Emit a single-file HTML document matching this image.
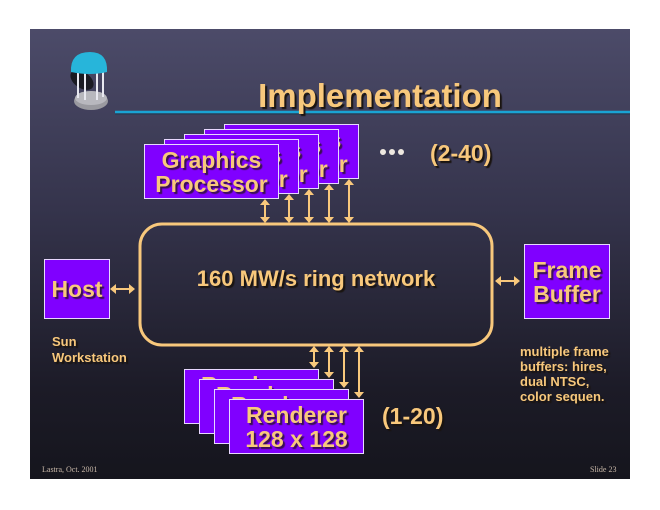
<!DOCTYPE html>
<html><head><meta charset="utf-8"><style>
*{margin:0;padding:0;box-sizing:border-box}
body{width:660px;height:510px;background:#fff;position:relative;overflow:hidden;font-family:"Liberation Sans",Arial,sans-serif}
#slide{position:absolute;left:30px;top:29px;width:600px;height:450px;background:linear-gradient(#4c4b69 0%,#35344c 40%,#1c1b27 80%,#15151d 100%)}
.t{position:absolute;color:#f8c87c;font-weight:bold;text-shadow:2px 2px 1px #1a1410;white-space:nowrap}
.box{position:absolute;width:135px;height:55px;background:#8000ff;border:1px solid #e8d8ff;color:#f8c87c;font-weight:bold;font-size:23px;line-height:24px;text-align:center;display:flex;align-items:center;justify-content:center;text-shadow:2px 2px 1px #3a1050;white-space:nowrap;overflow:hidden}
svg{position:absolute;left:0;top:0}
</style></head><body>
<div id="slide"></div>
<svg width="660" height="510">
 <ellipse cx="82" cy="80" rx="13" ry="8" fill="#1a1a22" transform="rotate(35 82 80)"/>
 <ellipse cx="91" cy="101" rx="17" ry="9" fill="#9a9aa0"/>
 <ellipse cx="91" cy="98" rx="16" ry="7" fill="#b8b8be"/>
 <g stroke="#e8e8f0" stroke-width="2"><line x1="78" y1="68" x2="78" y2="98"/><line x1="85" y1="70" x2="85" y2="100"/><line x1="97" y1="70" x2="97" y2="100"/><line x1="103" y1="68" x2="103" y2="97"/></g>
 <path d="M71 72 Q70 52 90 52 Q108 52 107 72 Q90 76 71 72 Z" fill="#27b5da"/>
 <line x1="115" y1="112" x2="630" y2="112" stroke="#1aa4d4" stroke-width="2.5"/>
 <line x1="115" y1="114" x2="630" y2="114" stroke="#1e3a50" stroke-width="1"/>
 <rect x="140" y="224" width="352" height="121" rx="22" fill="none" stroke="#f8c87c" stroke-width="3"/>
 <g stroke="#f8c87c" stroke-width="2" fill="#f8c87c">
  <line x1="265" y1="203" x2="265" y2="219"/><line x1="289" y1="198" x2="289" y2="219"/><line x1="309" y1="193" x2="309" y2="219"/><line x1="329" y1="188" x2="329" y2="219"/><line x1="349" y1="183" x2="349" y2="219"/>
  <line x1="314" y1="350" x2="314" y2="364"/><line x1="329" y1="350" x2="329" y2="374"/><line x1="344" y1="350" x2="344" y2="384"/><line x1="359" y1="350" x2="359" y2="394"/>
  <line x1="114" y1="289" x2="131" y2="289"/><line x1="499" y1="281" x2="516" y2="281"/>
 </g>
 <g fill="#f8c87c">
  <path d="M260 205 L265 199 L270 205Z M260 217 L265 223 L270 217Z"/>
  <path d="M284 200 L289 194 L294 200Z M284 217 L289 223 L294 217Z"/>
  <path d="M304 195 L309 189 L314 195Z M304 217 L309 223 L314 217Z"/>
  <path d="M324 190 L329 184 L334 190Z M324 217 L329 223 L334 217Z"/>
  <path d="M344 185 L349 179 L354 185Z M344 217 L349 223 L354 217Z"/>
  <path d="M309 352 L314 346 L319 352Z M309 362 L314 368 L319 362Z"/>
  <path d="M324 352 L329 346 L334 352Z M324 372 L329 378 L334 372Z"/>
  <path d="M339 352 L344 346 L349 352Z M339 382 L344 388 L349 382Z"/>
  <path d="M354 352 L359 346 L364 352Z M354 392 L359 398 L364 392Z"/>
  <path d="M116 284 L110 289 L116 294Z M129 284 L135 289 L129 294Z"/>
  <path d="M501 276 L495 281 L501 286Z M514 276 L520 281 L514 286Z"/>
 </g>
 <g fill="#eee8e0"><circle cx="383" cy="152" r="3"/><circle cx="392" cy="152" r="3"/><circle cx="401" cy="152" r="3"/></g>
</svg>
<div class="t" style="left:0;width:760px;text-align:center;top:77px;font-size:33px">Implementation</div>
<div class="box" style="left:224px;top:124px">Graphics<br>Processor</div>
<div class="box" style="left:204px;top:129px">Graphics<br>Processor</div>
<div class="box" style="left:184px;top:134px">Graphics<br>Processor</div>
<div class="box" style="left:164px;top:139px">Graphics<br>Processor</div>
<div class="box" style="left:144px;top:144px">Graphics<br>Processor</div>
<div class="t" style="left:430px;top:140px;font-size:23px">(2-40)</div>
<div class="t" style="left:140px;width:352px;text-align:center;top:266px;font-size:22px">160 MW/s ring network</div>
<div class="box" style="left:44px;top:259px;width:66px;height:60px">Host</div>
<div class="box" style="left:524px;top:244px;width:86px;height:75px">Frame<br>Buffer</div>
<div class="t" style="left:52px;top:334px;font-size:13px;line-height:16px">Sun<br>Workstation</div>
<div class="t" style="left:520px;top:344px;font-size:13px;line-height:15px">multiple frame<br>buffers: hires,<br>dual NTSC,<br>color sequen.</div>
<div class="box" style="left:184px;top:369px">Renderer<br>128 x 128</div>
<div class="box" style="left:199px;top:379px">Renderer<br>128 x 128</div>
<div class="box" style="left:214px;top:389px">Renderer<br>128 x 128</div>
<div class="box" style="left:229px;top:399px">Renderer<br>128 x 128</div>
<div class="t" style="left:382px;top:403px;font-size:23px">(1-20)</div>
<div style="position:absolute;left:42px;top:465px;font:8px 'Liberation Serif',serif;color:#c8b8a8">Lastra, Oct. 2001</div>
<div style="position:absolute;left:590px;top:465px;font:8px 'Liberation Serif',serif;color:#c8b8a8">Slide 23</div>
</body></html>
